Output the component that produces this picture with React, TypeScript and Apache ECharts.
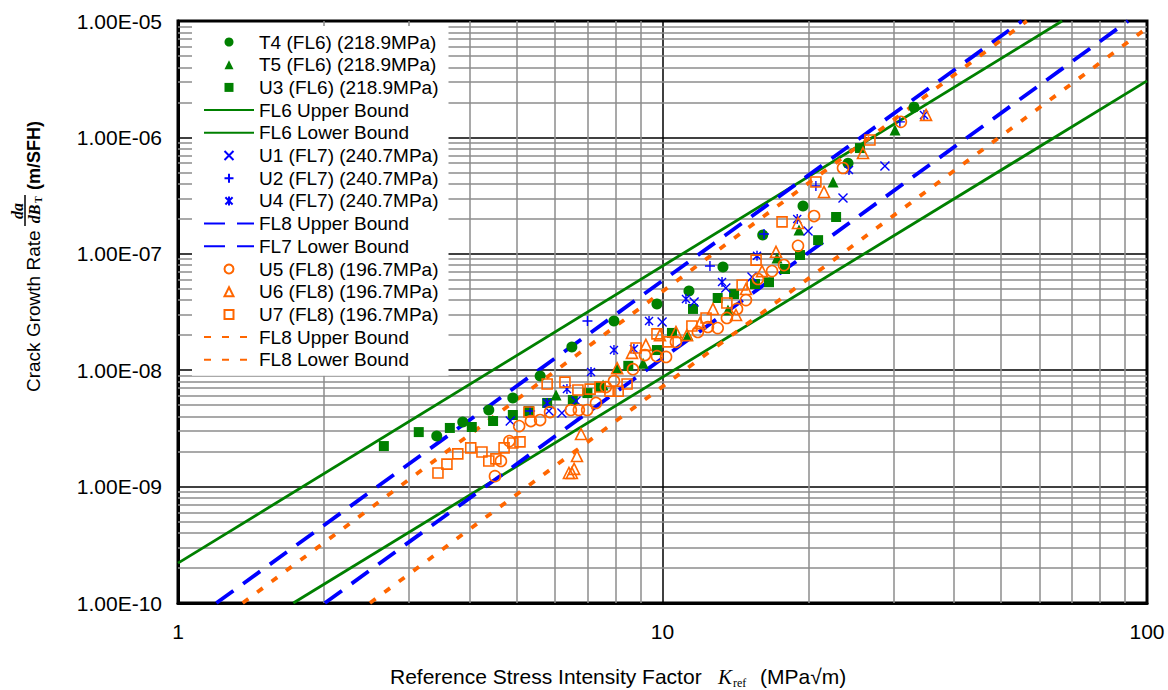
import React, { useEffect, useRef } from "react";
import * as echarts from "echarts";

// ---------- data ----------
// [K_ref (MPa*sqrt(m)), da/dB (m/SFH)]
const T4 = [[3.42,2.72e-9],[3.87,3.59e-9],[4.38,4.55e-9],[4.91,5.77e-9],[5.59,8.9e-9],[6.5,1.58e-8],[7.94,2.65e-8],[9.74,3.7e-8],[11.34,4.79e-8],[13.33,7.7e-8],[16.1,1.45e-7],[19.5,2.57e-7],[24.15,6.0e-7],[33.05,1.82e-6]];
const T5 = [[6.03,6.13e-9],[7.54,7.45e-9],[8.06,1.04e-8],[9.12,1.15e-8],[11.29,2.0e-8],[13.65,3.29e-8],[17.23,9.2e-8],[19.13,1.6e-7],[22.49,4.14e-7],[30.19,1.16e-6]];
const U3 = [[2.66,2.23e-9],[3.14,2.94e-9],[3.64,3.19e-9],[4.04,3.25e-9],[4.47,3.66e-9],[4.91,4.12e-9],[5.3,4.46e-9],[5.78,5.23e-9],[6.53,5.54e-9],[7.0,6.36e-9],[7.46,7.17e-9],[8.5,1.09e-8],[9.74,1.49e-8],[10.46,2.09e-8],[11.56,3.36e-8],[13.0,4.17e-8],[14.05,4.51e-8],[15.52,5.5e-8],[16.59,5.7e-8],[17.9,7.4e-8],[19.22,9.76e-8],[20.95,1.31e-7],[22.82,2.07e-7],[25.56,8.1e-7]];
const U1 = [[4.85,3.66e-9],[5.83,4.46e-9],[6.2,4.29e-9],[6.63,5.43e-9],[9.98,2.59e-8],[11.62,3.85e-8],[13.51,5.08e-8],[15.3,6.31e-8],[19.97,1.57e-7],[23.58,3.01e-7],[28.78,5.67e-7]];
const U2 = [[5.33,4.46e-9],[7.0,2.65e-8],[12.53,7.85e-8],[16.2,1.48e-7],[20.73,3.82e-7],[30.9,1.36e-6]];
const U4 = [[5.78,5.23e-9],[6.35,6.88e-9],[7.12,9.64e-9],[7.94,1.49e-8],[8.73,1.52e-8],[9.38,2.65e-8],[11.18,4.09e-8],[13.27,5.72e-8],[15.67,9.6e-8],[18.97,1.99e-7],[24.26,5.25e-7],[34.65,1.56e-6]];
const U5 = [[4.51,1.23e-9],[4.64,1.66e-9],[4.83,2.46e-9],[5.06,3.31e-9],[5.35,3.66e-9],[5.59,3.73e-9],[5.86,4.37e-9],[6.47,4.55e-9],[6.72,4.55e-9],[6.99,4.55e-9],[7.29,5.23e-9],[7.64,7.17e-9],[7.94,8.07e-9],[8.69,1.02e-8],[9.2,1.35e-8],[9.74,1.32e-8],[10.17,1.3e-8],[10.66,1.75e-8],[11.83,2.13e-8],[12.41,2.35e-8],[13.0,2.3e-8],[13.58,2.81e-8],[14.25,3.36e-8],[14.87,4.0e-8],[15.74,6.08e-8],[16.83,7.1e-8],[17.81,8.0e-8],[19.04,1.17e-7],[20.55,2.11e-7],[23.58,5.46e-7],[31.05,1.36e-6]];
const U6 = [[6.41,1.31e-9],[6.5,1.31e-9],[6.57,1.42e-9],[6.66,1.83e-9],[6.79,2.83e-9],[8.06,1.04e-8],[8.65,1.41e-8],[9.24,1.65e-8],[9.88,2.0e-8],[10.66,2.13e-8],[11.23,2.0e-8],[11.95,2.54e-8],[12.71,3.36e-8],[14.18,2.98e-8],[14.87,4.98e-8],[16.05,7.1e-8],[17.15,1.04e-7],[19.04,1.84e-7],[21.54,3.4e-7],[25.93,7.34e-7],[34.99,1.56e-6]];
const U7 = [[3.44,1.31e-9],[3.59,1.56e-9],[3.78,1.91e-9],[4.02,2.15e-9],[4.24,1.98e-9],[4.38,1.66e-9],[4.53,1.73e-9],[4.71,2.15e-9],[4.91,2.37e-9],[5.08,2.42e-9],[5.3,4.37e-9],[5.78,7.6e-9],[6.29,7.9e-9],[6.69,6.75e-9],[7.09,6.88e-9],[7.43,7.17e-9],[7.79,6.6e-9],[8.1,6.6e-9],[8.45,7.6e-9],[8.82,1.55e-8],[9.74,2.05e-8],[10.27,1.75e-8],[11.5,2.4e-8],[12.3,2.81e-8],[13.58,3.78e-8],[14.6,5.4e-8],[15.6,8.83e-8],[17.65,1.88e-7],[20.73,4.14e-7],[26.8,9.5e-7]];

// bound lines: end points where they meet the plot frame
const FL6_UPPER = [[1, 2.2e-10], [66.8, 1e-5]];
const FL6_LOWER = [[1.73, 1e-10], [100, 3.06e-6]];
const FL7_UPPER = [[1.2, 1e-10], [55.2, 1e-5]];
const FL7_LOWER = [[2.01, 1e-10], [91.4, 1e-5]];
const FL8_UPPER = [[1.36, 1e-10], [56.5, 1e-5]];
const FL8_LOWER = [[2.49, 1e-10], [100, 8.7e-6]];

// axes
const X_MIN = 1, X_MAX = 100;
const Y_MIN = 1e-10, Y_MAX = 1e-5;
const X_DECADES = [1, 10];
const Y_DECADES = [1e-10, 1e-9, 1e-8, 1e-7, 1e-6];
const MINOR_STEPS = [2, 3, 4, 5, 6, 7, 8, 9];

// legend labels (as printed in the reference)
const LEGEND_LABELS: Record<string, string> = {
  T4: "T4 (FL6) (218.9MPa)",
  T5: "T5 (FL6) (218.9MPa)",
  U3: "U3 (FL6) (218.9MPa)",
  FL6U: "FL6 Upper Bound",
  FL6L: "FL6 Lower Bound",
  U1: "U1 (FL7) (240.7MPa)",
  U2: "U2 (FL7) (240.7MPa)",
  U4: "U4 (FL7) (240.7MPa)",
  FL7U: "FL8 Upper Bound",
  FL7L: "FL7 Lower Bound",
  U5: "U5 (FL8) (196.7MPa)",
  U6: "U6 (FL8) (196.7MPa)",
  U7: "U7 (FL8) (196.7MPa)",
  FL8U: "FL8 Upper Bound",
  FL8L: "FL8 Lower Bound",
};
const LEGEND_ORDER = ["T4","T5","U3","FL6U","FL6L","U1","U2","U4","FL7U","FL7L","U5","U6","U7","FL8U","FL8L"];
const LINE_NAMES = ["FL6U","FL6L","FL7U","FL7L","FL8U","FL8L"];

const GREEN = "#008000";
const BLUE = "#0000FF";
const ORANGE = "#FF6600";
const FONT = "'Liberation Sans', Arial, sans-serif";
const SERIF = "'Liberation Serif', 'Times New Roman', serif";

const CROSS = "path://M0,0L10,10M10,0L0,10";
const PLUS = "path://M5,0L5,10M0,5L10,5";
const STAR = "path://M1,1L9,9M9,1L1,9M5,0L5,10";
const TRI = "path://M5,0L10,10L0,10Z";
const SQUARE = "path://M0,0L10,0L10,10L0,10Z";

const HOLLOW = "rgba(255,255,255,0)";

function yLabel(v: number): string {
  const e = Math.round(Math.log10(v));
  return "1.00E" + (e < 0 ? "-" : "+") + String(Math.abs(e)).padStart(2, "0");
}

export default function App() {
  const ref = useRef<HTMLDivElement>(null);

  useEffect(() => {
    if (!ref.current) return;
    const chart = echarts.init(ref.current, null, { renderer: "svg" });

    const gridLines: any[] = [];
    X_DECADES.forEach((d) =>
      MINOR_STEPS.forEach((m) => gridLines.push([{ coord: [d * m, Y_MIN] }, { coord: [d * m, Y_MAX] }]))
    );
    Y_DECADES.forEach((d) =>
      MINOR_STEPS.forEach((m) => gridLines.push([{ coord: [X_MIN, d * m] }, { coord: [X_MAX, d * m] }]))
    );

    const scatter = (name: string, data: number[][], symbol: string, size: number, style: any) => ({
      type: "scatter",
      name,
      data,
      symbol,
      symbolSize: size,
      symbolKeepAspect: true,
      itemStyle: { opacity: 1, ...style },
      z: 5,
      silent: true,
    });
    const bound = (name: string, data: number[][], color: string, width: number, dash: any) => ({
      type: "line",
      name,
      data,
      showSymbol: false,
      symbol: "none",
      lineStyle: { color, width, type: dash, cap: "butt", opacity: 1 },
      itemStyle: { color },
      z: 3,
      silent: true,
    });

    chart.setOption({
      animation: false,
      backgroundColor: "#fff",
      grid: {
        left: 178, right: 21, top: 21, bottom: 87,
        show: true, borderColor: "#000", borderWidth: 3, backgroundColor: "transparent",
      },
      xAxis: {
        type: "log", logBase: 10, min: X_MIN, max: X_MAX,
        axisLine: { show: true, lineStyle: { color: "#000", width: 3 } },
        axisTick: { show: false },
        axisLabel: { color: "#000", fontFamily: FONT, fontSize: 21, margin: 18 },
        splitLine: { show: true, lineStyle: { color: "#000", width: 1.5 } },
      },
      yAxis: {
        type: "log", logBase: 10, min: Y_MIN, max: Y_MAX,
        axisLine: { show: true, lineStyle: { color: "#000", width: 3 } },
        axisTick: { show: false },
        axisLabel: { color: "#000", fontFamily: FONT, fontSize: 21, margin: 16, formatter: yLabel },
        splitLine: { show: true, lineStyle: { color: "#000", width: 1.5 } },
      },
      legend: {
        orient: "vertical",
        left: 192,
        top: 26,
        z: 20,
        padding: [6, 10, 6, 11],
        itemGap: 2.7,
        itemWidth: 50,
        itemHeight: 9,
        backgroundColor: "#ffffff",
        selectedMode: false,
        textStyle: { fontFamily: FONT, fontSize: 19, color: "#000", lineHeight: 20 },
        data: LEGEND_ORDER.map((n) =>
          LINE_NAMES.includes(n) ? { name: n, itemStyle: { opacity: 0 } } : { name: n }
        ),
        formatter: (n: string) => LEGEND_LABELS[n] ?? n,
      },
      series: [
        {
          type: "line",
          name: "minor-grid",
          data: [],
          silent: true,
          z: 1,
          markLine: {
            silent: true,
            z: 1,
            symbol: ["none", "none"],
            label: { show: false },
            lineStyle: { color: "#8c8c8c", width: 1.5, type: "solid" },
            emphasis: { disabled: true },
            data: gridLines,
          },
        },
        bound("FL6U", FL6_UPPER, GREEN, 2.8, "solid"),
        bound("FL6L", FL6_LOWER, GREEN, 2.8, "solid"),
        bound("FL7U", FL7_UPPER, BLUE, 3.8, [21, 12]),
        bound("FL7L", FL7_LOWER, BLUE, 3.8, [21, 12]),
        bound("FL8U", FL8_UPPER, ORANGE, 3.8, [7, 11]),
        bound("FL8L", FL8_LOWER, ORANGE, 3.8, [7, 11]),
        scatter("T4", T4, "circle", 11, { color: GREEN }),
        scatter("T5", T5, TRI, 11, { color: GREEN }),
        scatter("U3", U3, SQUARE, 10, { color: GREEN }),
        scatter("U1", U1, CROSS, 9, { color: BLUE, borderColor: BLUE, borderWidth: 1.4 }),
        scatter("U2", U2, PLUS, 10, { color: BLUE, borderColor: BLUE, borderWidth: 1.4 }),
        scatter("U4", U4, STAR, 10, { color: BLUE, borderColor: BLUE, borderWidth: 1.4 }),
        scatter("U5", U5, "circle", 11, { color: HOLLOW, borderColor: ORANGE, borderWidth: 1.6 }),
        scatter("U6", U6, TRI, 11, { color: HOLLOW, borderColor: ORANGE, borderWidth: 1.6 }),
        scatter("U7", U7, SQUARE, 10, { color: HOLLOW, borderColor: ORANGE, borderWidth: 1.6 }),
      ],
      graphic: [
        {
          type: "group",
          x: 33,
          y: 392,
          rotation: Math.PI / 2,
          children: [
            { type: "text", x: 0, y: 0, style: { text: "Crack Growth Rate", fontFamily: FONT, fontSize: 19, fill: "#000", align: "left", verticalAlign: "middle" } },
            { type: "text", x: 181, y: -16, style: { text: "da", font: `italic bold 16px ${SERIF}`, fill: "#000", align: "center", verticalAlign: "middle" } },
            { type: "line", shape: { x1: 166, y1: -8, x2: 197, y2: -8 }, style: { stroke: "#000", lineWidth: 1.5 } },
            { type: "text", x: 178, y: 1, style: { text: "dB", font: `italic bold 16px ${SERIF}`, fill: "#000", align: "center", verticalAlign: "middle" } },
            { type: "text", x: 189, y: 5, style: { text: "T", font: `bold 10px ${SERIF}`, fill: "#000", align: "left", verticalAlign: "middle" } },
            { type: "text", x: 202, y: 1, style: { text: "(m/SFH)", font: `bold 18px ${FONT}`, fill: "#000", align: "left", verticalAlign: "middle" } },
          ],
        },
        { type: "text", x: 390, y: 676, style: { text: "Reference Stress Intensity Factor", fontFamily: FONT, fontSize: 21, fill: "#000", verticalAlign: "middle" } },
        { type: "text", x: 718, y: 677, style: { text: "K", font: `italic 21px ${SERIF}`, fill: "#000", verticalAlign: "middle" } },
        { type: "text", x: 733, y: 683, style: { text: "ref", font: `12px ${SERIF}`, fill: "#000", verticalAlign: "middle" } },
        { type: "text", x: 760, y: 676, style: { text: "(MPa\u221Am)", fontFamily: FONT, fontSize: 21, fill: "#000", verticalAlign: "middle" } },
      ],
    });

    return () => chart.dispose();
  }, []);

  return <div ref={ref} style={{ position: "absolute", left: 0, top: 0, width: 1168, height: 690 }} />;
}
